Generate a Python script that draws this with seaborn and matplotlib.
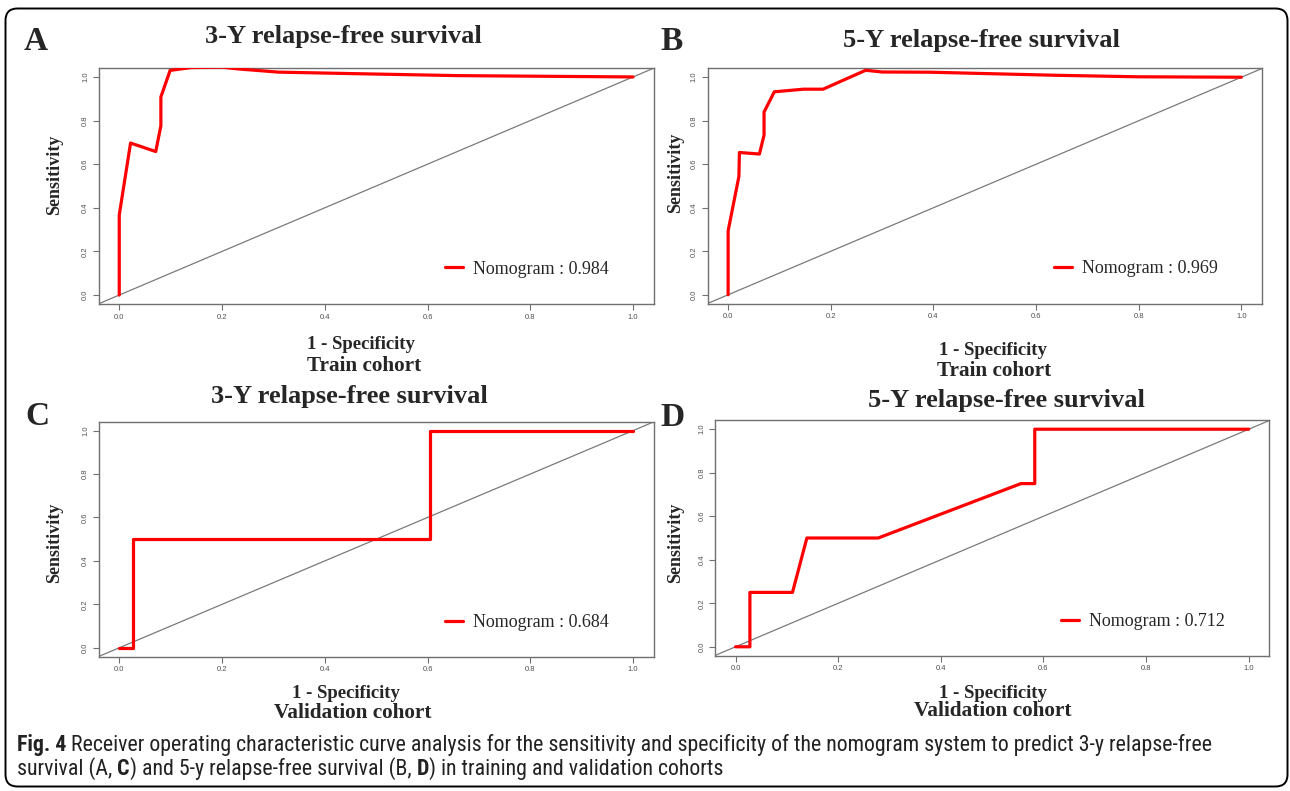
import matplotlib
matplotlib.use("Agg")
import matplotlib.pyplot as plt
import seaborn as sns
import pandas as pd
from matplotlib.patches import FancyBboxPatch
from matplotlib import font_manager

# ---------------- data ----------------
a_fpr = [0, 0, 0.022, 0.071, 0.081, 0.081, 0.099, 0.14, 0.20, 0.23, 0.31, 0.46, 0.66, 1.0]
a_tpr = [0, 0.367, 0.697, 0.658, 0.776, 0.908, 1.030, 1.043, 1.045, 1.037, 1.022, 1.015, 1.006, 1.0]

b_fpr = [0, 0, 0.021, 0.022, 0.061, 0.070, 0.070, 0.090, 0.147, 0.185, 0.268, 0.30, 0.394, 0.515, 0.637, 0.798, 1.0]
b_tpr = [0, 0.294, 0.544, 0.654, 0.647, 0.734, 0.840, 0.933, 0.945, 0.945, 1.032, 1.024, 1.023, 1.016, 1.009, 1.002, 1.0]

c_fpr = [0, 0.026, 0.026, 0.605, 0.605, 1.0]
c_tpr = [0, 0, 0.5, 0.5, 1.0, 1.0]

d_fpr = [0, 0.028, 0.028, 0.111, 0.139, 0.278, 0.556, 0.583, 0.583, 1.0]
d_tpr = [0, 0, 0.25, 0.25, 0.5, 0.5, 0.75, 0.75, 1.0, 1.0]

panel_letters = ["A", "B", "C", "D"]
panel_titles = ["3-Y relapse-free survival", "5-Y relapse-free survival",
                "3-Y relapse-free survival", "5-Y relapse-free survival"]
cohorts = ["Train cohort", "Train cohort", "Validation cohort", "Validation cohort"]
auc_labels = ["Nomogram : 0.984", "Nomogram : 0.969", "Nomogram : 0.684", "Nomogram : 0.712"]
tick_vals = [0.0, 0.2, 0.4, 0.6, 0.8, 1.0]
tick_text = ["0.0", "0.2", "0.4", "0.6", "0.8", "1.0"]

# ---------------- style ----------------
sns.set_style("white")
plt.rcParams["font.family"] = ["Liberation Serif", "DejaVu Serif"]

W, H = 1290, 791
fig = plt.figure(figsize=(W / 100, H / 100), dpi=100)

def fx(x):
    return x / W

def fy(y):
    return 1 - y / H

# axes boxes in pixel coords (left, right, top, bottom)
boxes = [(98.7, 653.6, 68.0, 304.0),
         (707.6, 1261.9, 68.3, 303.7),
         (98.7, 653.6, 421.7, 656.7),
         (715.0, 1269.3, 420.3, 655.7)]
curves = [(a_fpr, a_tpr), (b_fpr, b_tpr), (c_fpr, c_tpr), (d_fpr, d_tpr)]

letter_pos = [(24, 50), (660, 50.5), (25, 425), (660, 426)]
title_pos = [(343, 43.3), (981, 46.7), (349, 403.3), (1006, 407.3)]
ylabel_pos = [(55, 175), (676, 172.5), (55, 542.5), (676, 542.5)]
spec_pos = [(361, 349), (993, 355), (346, 697.5), (993, 697.5)]
cohort_pos = [(364, 371.5), (994, 375.5), (353, 718.3), (993, 715.7)]
legend_anchor = [(0.624, 0.148), (0.625, 0.150), (0.624, 0.146), (0.625, 0.144)]

spine_col = "#707070"
for i in range(4):
    L, R, T, B = boxes[i]
    ax = fig.add_axes([fx(L), fy(B), (R - L) / W, (B - T) / H])
    df = pd.DataFrame({"fpr": curves[i][0], "tpr": curves[i][1]})
    ax.axline((0, 0), (1, 1), color="#7a7a7a", lw=0.9, zorder=1)
    sns.lineplot(data=df, x="fpr", y="tpr", ax=ax, sort=False, estimator=None,
                 color="#ff0000", lw=2.3, label=auc_labels[i], zorder=3)
    ax.set_xlim(-0.04, 1.04)
    ax.set_ylim(-0.041, 1.041)
    ax.set_xticks(tick_vals)
    ax.set_xticklabels(tick_text, family="Liberation Sans", fontsize=5.5, color="#505050")
    ax.set_yticks(tick_vals)
    ax.set_yticklabels(tick_text, family="Liberation Sans", fontsize=5.5, color="#505050",
                       rotation=90, va="center")
    ax.tick_params(axis="both", direction="out", length=4, width=0.8, color=spine_col,
                   bottom=True, left=True, pad=3)
    ax.set_xlabel("")
    ax.set_ylabel("")
    for s in ax.spines.values():
        s.set_visible(True)
        s.set_color(spine_col)
        s.set_linewidth(1.0)
    ax.legend(loc="center left", bbox_to_anchor=legend_anchor[i], frameon=False,
              borderpad=0, borderaxespad=0, handlelength=1.0, handletextpad=0.55,
              prop={"family": "Liberation Serif", "size": 13})

    lx, ly = letter_pos[i]
    fig.text(fx(lx), fy(ly), panel_letters[i], fontsize=24, fontweight="bold",
             ha="left", va="baseline")
    tx, ty = title_pos[i]
    fig.text(fx(tx), fy(ty), panel_titles[i], fontsize=19, fontweight="bold",
             ha="center", va="baseline")
    yx, yy = ylabel_pos[i]
    fig.text(fx(yx), fy(yy), "Sensitivity", fontsize=13, fontweight="bold",
             rotation=90, ha="center", va="center")
    sx, sy = spec_pos[i]
    fig.text(fx(sx), fy(sy), "1 - Specificity", fontsize=13.5, fontweight="bold",
             ha="center", va="baseline")
    cx, cy = cohort_pos[i]
    fig.text(fx(cx), fy(cy), cohorts[i], fontsize=15.3, fontweight="bold",
             ha="center", va="baseline")

# ---------------- caption ----------------
line1 = [("Fig. 4", "bold"),
         (" Receiver operating characteristic curve analysis for the sensitivity and specificity of the nomogram system to predict 3-y relapse-free", "normal")]
line2 = [("survival (A, ", "normal"), ("C", "bold"), (") and 5-y relapse-free survival (B, ", "normal"),
         ("D", "bold"), (") in training and validation cohorts", "normal")]

installed = {f.name for f in font_manager.fontManager.ttflist}
cap_font = "Roboto"
for cand in ["Liberation Sans Narrow", "Roboto Condensed", "Open Sans Condensed", "Noto Sans Condensed"]:
    if cand in installed:
        cap_font = cand
        break

renderer = fig.canvas.get_renderer()

def seg_width(txt, weight, size):
    t = fig.text(0, 0, txt, family=cap_font, fontweight=weight, fontsize=size)
    w = t.get_window_extent(renderer).width
    t.remove()
    return w

base = 12.0
w1 = sum(seg_width(s, wt, base) for s, wt in line1)
cap_size = base * (1195 / w1)

def place_line(segs, x0, ybase):
    x = x0
    for s, wt in segs:
        t = fig.text(fx(x), fy(ybase), s, family=cap_font, fontweight=wt,
                     fontsize=cap_size, ha="left", va="baseline", color="#222222")
        x += t.get_window_extent(renderer).width

place_line(line1, 17, 751)
place_line(line2, 17, 775)

# ---------------- border ----------------
border = FancyBboxPatch((0.055, 0.045), 12.82, 7.78,
                        boxstyle="round,pad=0,rounding_size=0.12",
                        transform=fig.dpi_scale_trans, fill=False,
                        edgecolor="black", lw=1.4)
fig.patches.append(border)

fig.savefig("out.png", dpi=100)
